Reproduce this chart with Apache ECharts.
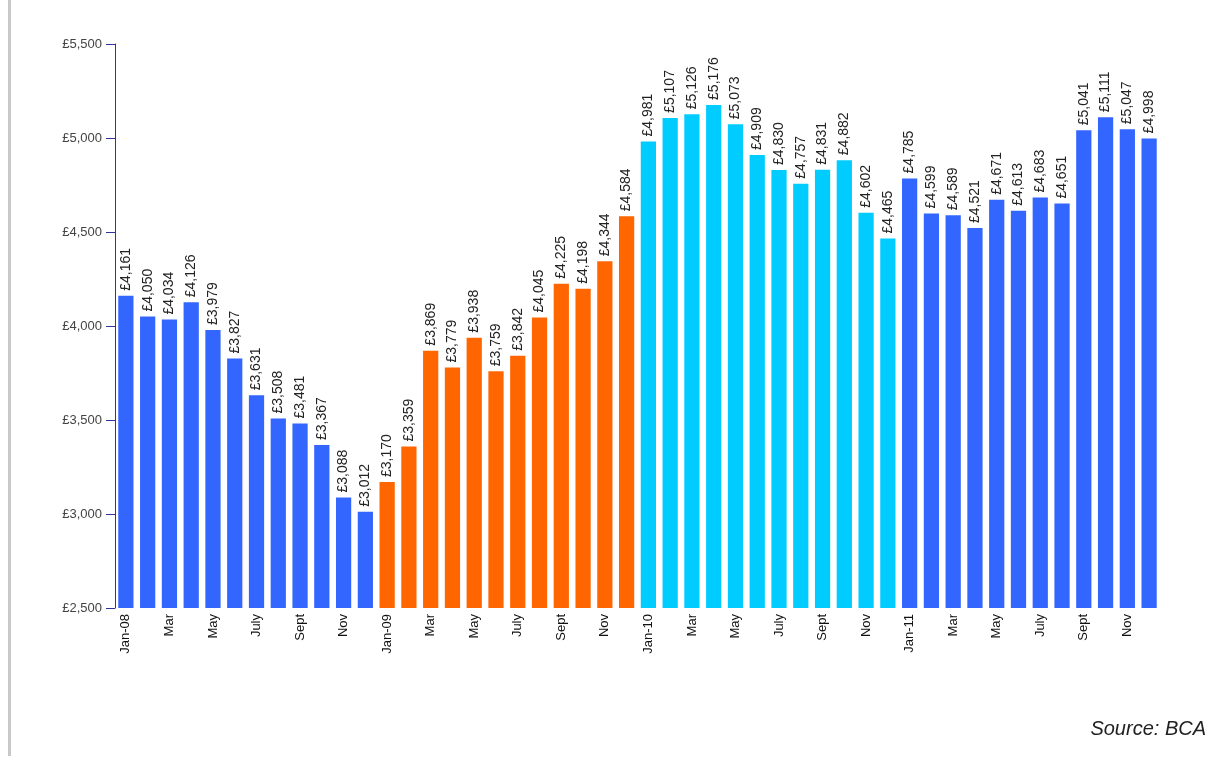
<!DOCTYPE html>
<html>
<head>
<meta charset="utf-8">
<style>
html,body{margin:0;padding:0;background:#fff;}
#chart{width:1212px;height:758px;}
</style>
<script src="https://cdn.jsdelivr.net/npm/echarts@6/dist/echarts.min.js"></script>
</head>
<body>
<div id="chart"></div>
<script>
const categories = [
  'Jan-08','Feb','Mar','Apr','May','June','July','Aug','Sept','Oct','Nov','Dec',
  'Jan-09','Feb','Mar','Apr','May','June','July','Aug','Sept','Oct','Nov','Dec',
  'Jan-10','Feb','Mar','Apr','May','June','July','Aug','Sept','Oct','Nov','Dec',
  'Jan-11','Feb','Mar','Apr','May','June','July','Aug','Sept','Oct','Nov','Dec'
];
const values2008 = [4161,4050,4034,4126,3979,3827,3631,3508,3481,3367,3088,3012];
const values2009 = [3170,3359,3869,3779,3938,3759,3842,4045,4225,4198,4344,4584];
const values2010 = [4981,5107,5126,5176,5073,4909,4830,4757,4831,4882,4602,4465];
const values2011 = [4785,4599,4589,4521,4671,4613,4683,4651,5041,5111,5047,4998];
const yearColors = ['#3366ff','#ff6600','#00ccff','#3366ff'];

const allValues = [values2008, values2009, values2010, values2011];
const data = [];
allValues.forEach((arr, yi) => {
  arr.forEach(v => data.push({value: v, itemStyle: {color: yearColors[yi]}}));
});

const fmt = v => '£' + v.toLocaleString('en-GB');

const chart = echarts.init(document.getElementById('chart'));
chart.setOption({
  animation: false,
  grid: {left: 115, top: 44, width: 1045, height: 564},
  xAxis: {
    type: 'category',
    data: categories,
    axisLine: {show: false},
    axisTick: {show: false},
    axisLabel: {
      interval: 1,
      rotate: 90,
      margin: 6,
      fontSize: 13,
      color: '#111',
      fontFamily: 'Liberation Sans, Arial, sans-serif'
    }
  },
  yAxis: {
    type: 'value',
    min: 2500,
    max: 5500,
    interval: 500,
    splitLine: {show: false},
    axisLine: {show: true, lineStyle: {color: '#3333a0', width: 1}},
    axisTick: {show: true, length: 9, lineStyle: {color: '#3333a0'}},
    axisLabel: {
      formatter: fmt,
      fontSize: 13,
      margin: 13,
      color: '#444',
      fontFamily: 'Liberation Sans, Arial, sans-serif'
    }
  },
  series: [{
    type: 'bar',
    data: data,
    barCategoryGap: '30%',
    label: {
      show: true,
      position: 'top',
      rotate: 90,
      align: 'left',
      verticalAlign: 'middle',
      distance: 5,
      formatter: p => fmt(p.value),
      fontSize: 14,
      color: '#222',
      fontFamily: 'Liberation Sans, Arial, sans-serif'
    }
  }],
  graphic: [
    {type: 'rect', left: 8, top: 0, shape: {width: 3, height: 756}, style: {fill: '#c8c8c8'}},
    {type: 'text', right: 6, top: 719, style: {text: 'Source: BCA', fontSize: 20, fontStyle: 'italic', fill: '#222', fontFamily: 'Liberation Sans, Arial, sans-serif'}}
  ]
});
</script>
</body>
</html>
